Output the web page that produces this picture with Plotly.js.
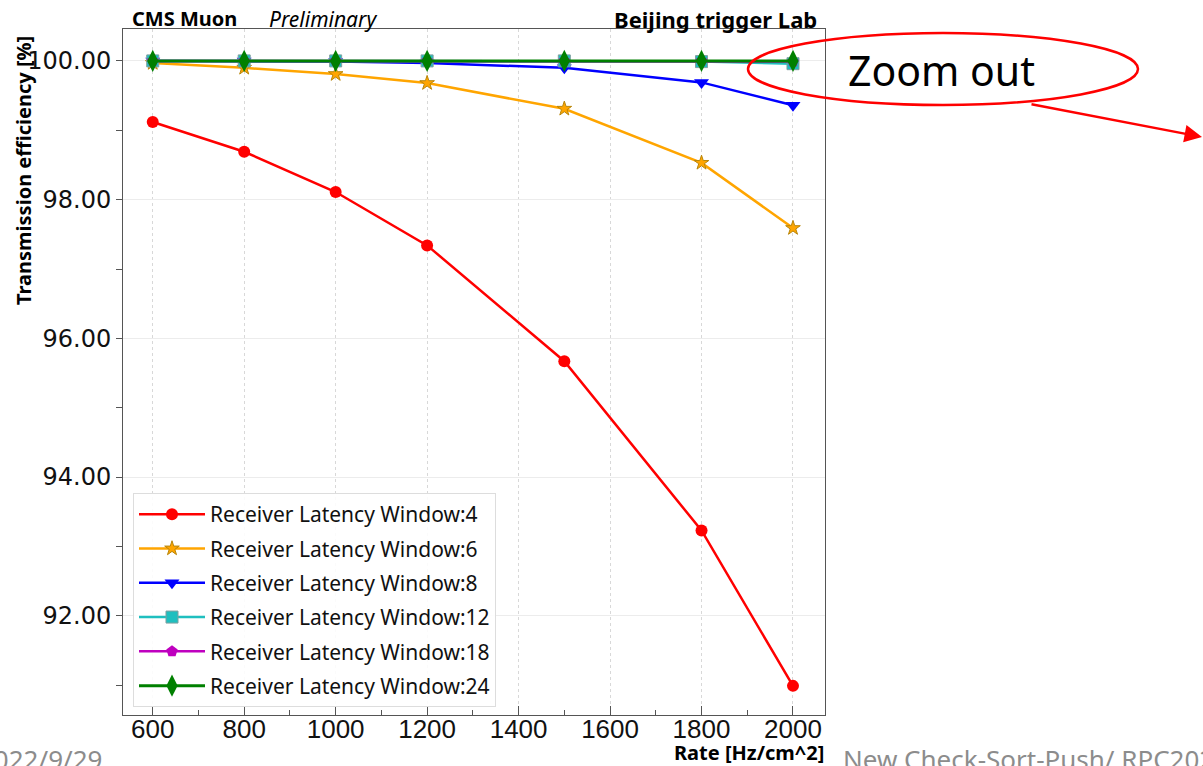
<!DOCTYPE html>
<html><head><meta charset="utf-8">
<script src="https://cdn.plot.ly/plotly-3.0.1.min.js"></script>
<style>html,body{margin:0;padding:0;background:#fff;overflow:hidden;}#chart{width:1203px;height:766px;}</style>
</head><body><div id="chart"></div>
<script>
const rates = [600, 800, 1000, 1200, 1500, 1800, 2000];
const seriesNames = ["Receiver Latency Window:4","Receiver Latency Window:6","Receiver Latency Window:8","Receiver Latency Window:12","Receiver Latency Window:18","Receiver Latency Window:24"];
const win4  = [99.12, 98.69, 98.11, 97.34, 95.67, 93.23, 90.99];
const win6  = [99.97, 99.90, 99.81, 99.68, 99.31, 98.53, 97.59];
const win8  = [100.00, 100.00, 99.99, 99.97, 99.90, 99.69, 99.36];
const win12 = [100.00, 100.00, 100.00, 100.00, 100.00, 99.99, 99.96];
const win18 = [100.00, 100.00, 100.00, 100.00, 100.00, 100.00, 99.99];
const win24 = [100.00, 100.00, 100.00, 100.00, 100.00, 100.00, 100.00];
const xTicks = [600, 800, 1000, 1200, 1400, 1600, 1800, 2000];
const yTicks = [92, 94, 96, 98, 100];
const yTickText = ["92.00","94.00","96.00","98.00","100.00"];

const styles = [
  {color:"#ff0000", symbol:"circle", size:12, lc:"#ff0000", lw:0},
  {color:"#ffa500", symbol:"star", size:11, lc:"#b8860b", lw:1},
  {color:"#0000ff", symbol:"triangle-down", size:13, lc:"#0000ff", lw:0},
  {color:"#1fbfbf", symbol:"square", size:12, lc:"#7f9f9f", lw:1},
  {color:"#bf00bf", symbol:"pentagon", size:12, lc:"#bf00bf", lw:0},
  {color:"#008000", symbol:"diamond-tall", size:16, lc:"#008000", lw:0}
];
const allY = [win4, win6, win8, win12, win18, win24];
const traces = allY.map((ys, i) => ({
  x: rates, y: ys, name: seriesNames[i], legendgroup: "g" + i, type: "scatter", mode: "lines+markers",
  line: {color: styles[i].color, width: i === 5 ? 3 : 2.5},
  marker: {symbol: styles[i].symbol, size: styles[i].size, color: styles[i].color,
           line: {color: styles[i].lc, width: styles[i].lw}}
}));

const L = 123, R = 825, T = 29, B = 715;
const px = v => (v - L) / (R - L);
const py = v => (B - v) / (B - T);

const layout = {
  width: 1203, height: 766,
  margin: {l: L, r: 1203 - R, t: T, b: 766 - B, pad: 0},
  paper_bgcolor: "#ffffff", plot_bgcolor: "#ffffff",
  showlegend: true,
  legend: {x: px(133), y: py(493), xanchor: "left", yanchor: "top",
    bgcolor: "rgba(255,255,255,0.9)", bordercolor: "#dddddd", borderwidth: 1,
    font: {family: "Noto Sans, sans-serif", size: 21, color: "#111"},
    tracegroupgap: 4, itemwidth: 66},
  xaxis: {range: [535, 2070], tickvals: xTicks, ticks: "inside", ticklen: 9, tickcolor: "#555",
    ticklabelstandoff: -9,
    minor: {dtick: 100, tick0: 0, ticks: "inside", ticklen: 5, tickcolor: "#555", showgrid: false},
    showgrid: true, gridcolor: "#d8d8d8", griddash: "dot", gridwidth: 1,
    showline: true, linecolor: "#555", linewidth: 1, mirror: true, zeroline: false,
    tickfont: {family: "Liberation Sans, sans-serif", size: 26, color: "#111"}},
  yaxis: {range: [90.57, 100.46], tickvals: yTicks, ticktext: yTickText, ticks: "outside", ticklen: 6, tickcolor: "#555",
    minor: {dtick: 1, tick0: 0, ticks: "outside", ticklen: 6, tickcolor: "#555", showgrid: false},
    showgrid: true, gridcolor: "#ececec", gridwidth: 1,
    showline: true, linecolor: "#555", linewidth: 1, mirror: true, zeroline: false,
    tickfont: {family: "DejaVu Sans, sans-serif", size: 24, color: "#111"}},
  shapes: [
    {type: "circle", xref: "paper", yref: "paper", x0: px(748), x1: px(1138), y0: py(33), y1: py(105),
     line: {color: "#ff0000", width: 2.5}, fillcolor: "rgba(0,0,0,0)", layer: "above"}
  ],
  annotations: [
    {xref: "paper", yref: "paper", x: px(130), y: py(19), xanchor: "left", yanchor: "middle", showarrow: false,
     text: "<b>CMS Muon</b>", font: {family: "Noto Sans, sans-serif", size: 20, color: "#000"}},
    {xref: "paper", yref: "paper", x: px(267), y: py(19), xanchor: "left", yanchor: "middle", showarrow: false,
     text: "<i>Preliminary</i>", font: {family: "Noto Sans, sans-serif", size: 21, color: "#000"}},
    {xref: "paper", yref: "paper", x: px(819), y: py(19), xanchor: "right", yanchor: "middle", showarrow: false,
     text: "<b>Beijing trigger Lab</b>", font: {family: "Noto Sans, sans-serif", size: 22, color: "#000"}},
    {xref: "paper", yref: "paper", x: px(23), y: py(171), xanchor: "center", yanchor: "middle", showarrow: false, textangle: -90,
     text: "<b>Transmission efficiency [%]</b>", font: {family: "Noto Sans, sans-serif", size: 20, color: "#000"}},
    {xref: "paper", yref: "paper", x: px(826), y: py(752), xanchor: "right", yanchor: "middle", showarrow: false,
     text: "<b>Rate [Hz/cm^2]</b>", font: {family: "Noto Sans, sans-serif", size: 20, color: "#000"}},
    {xref: "paper", yref: "paper", x: px(846), y: py(70), xanchor: "left", yanchor: "middle", showarrow: false,
     text: "Zoom out", font: {family: "Noto Sans, sans-serif", size: 41, color: "#000"}},
    {xref: "paper", yref: "paper", x: px(1203), y: py(137), ax: 1030 - 1203, ay: 104 - 137, axref: "pixel", ayref: "pixel",
     showarrow: true, arrowhead: 2, arrowsize: 1.4, arrowwidth: 2.5, arrowcolor: "#ff0000", text: ""},
    {xref: "paper", yref: "paper", x: px(104), y: py(739), xanchor: "right", yanchor: "top", showarrow: false,
     text: "2022/9/29", font: {family: "Noto Sans, sans-serif", size: 26, color: "#8c8c8c"}},
    {xref: "paper", yref: "paper", x: px(841), y: py(739), xanchor: "left", yanchor: "top", showarrow: false,
     text: "New Check-Sort-Push/ RPC2022", font: {family: "Noto Sans, sans-serif", size: 26, color: "#8c8c8c"}}
  ]
};
Plotly.newPlot("chart", traces, layout, {displayModeBar: false, staticPlot: true});
</script></body></html>
